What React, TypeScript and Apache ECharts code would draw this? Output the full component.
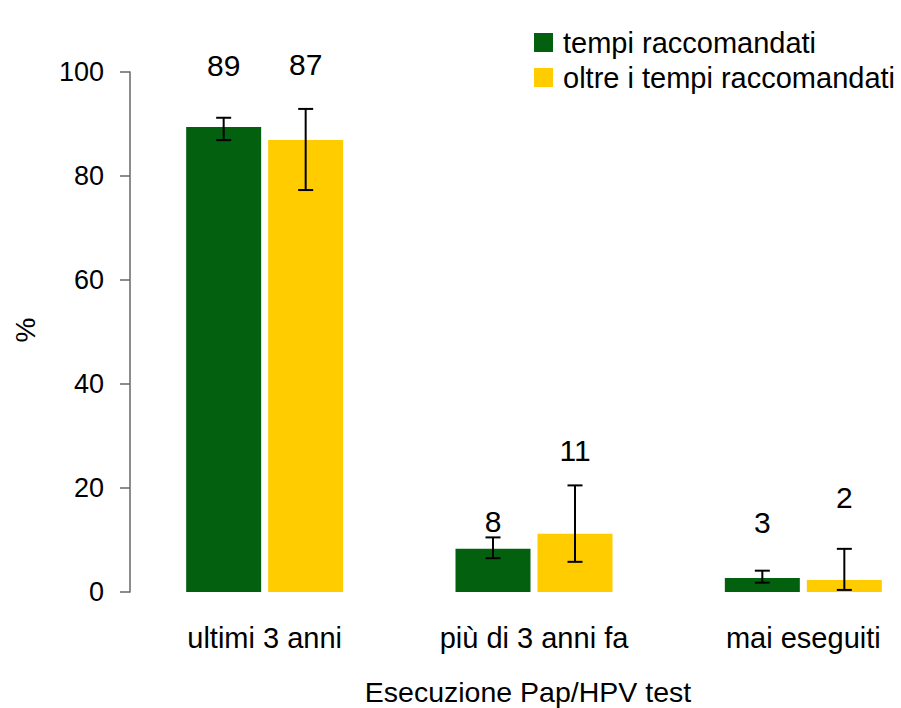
import React, { useEffect, useRef } from "react";
import * as echarts from "echarts";

const categories = ["ultimi 3 anni", "più di 3 anni fa", "mai eseguiti"];
const seriesNames = ["tempi raccomandati", "oltre i tempi raccomandati"];
const greenValues = [89.4, 8.3, 2.7];
const yellowValues = [86.9, 11.2, 2.3];
const greenLow = [86.9, 6.5, 1.8];
const greenHigh = [91.2, 10.5, 4.1];
const yellowLow = [77.3, 5.8, 0.4];
const yellowHigh = [92.9, 20.5, 8.3];
const greenLabels = ["89", "8", "3"];
const yellowLabels = ["87", "11", "2"];
const greenLabelY = [101.2, 13.5, 13.3];
const yellowLabelY = [101.5, 27.3, 18.1];
const yTicks = [0, 20, 40, 60, 80, 100];

const GREEN = "#03600f";
const YELLOW = "#ffcc00";
const BAR_W = 75;
const GAP = 7;
const FONT = "Liberation Sans, Arial, sans-serif";

function errSeries(low: number[], high: number[], labels: string[], labelY: number[], sign: number) {
  const data = categories.map((_, i) => [i, low[i], high[i], labelY[i]]);
  return {
    type: "custom",
    silent: true,
    z: 10,
    data,
    encode: { x: 0, y: [1, 2] },
    renderItem: (params: any, api: any) => {
      const i = api.value(0);
      const off = (sign * (BAR_W + GAP)) / 2;
      const pLow = api.coord([i, api.value(1)]);
      const pHigh = api.coord([i, api.value(2)]);
      const pLab = api.coord([i, api.value(3)]);
      const x = pLow[0] + off;
      const cap = 7.5;
      const st = { stroke: "#000", lineWidth: 2 };
      return {
        type: "group",
        children: [
          { type: "line", shape: { x1: x, y1: pLow[1], x2: x, y2: pHigh[1] }, style: st },
          { type: "line", shape: { x1: x - cap, y1: pLow[1], x2: x + cap, y2: pLow[1] }, style: st },
          { type: "line", shape: { x1: x - cap, y1: pHigh[1], x2: x + cap, y2: pHigh[1] }, style: st },
          {
            type: "text",
            x: x,
            y: pLab[1],
            style: {
              text: labels[i],
              fill: "#000",
              font: `30px ${FONT}`,
              align: "center",
              verticalAlign: "middle",
            },
          },
        ],
      };
    },
  };
}

export default function App() {
  const ref = useRef<HTMLDivElement>(null);
  useEffect(() => {
    document.body.style.margin = "0";
    const chart = echarts.init(ref.current!, undefined, { renderer: "svg" });
    chart.setOption({
      animation: false,
      backgroundColor: "#fff",
      textStyle: { fontFamily: FONT },
      grid: { left: 130, top: 72, bottom: 116, right: 0, containLabel: false },
      legend: {
        orient: "vertical",
        left: 529,
        top: 23,
        itemWidth: 19,
        itemHeight: 19,
        itemGap: 6,
        icon: "rect",
        textStyle: { fontSize: 29, lineHeight: 22, color: "#000", fontFamily: FONT, padding: [0, 0, 0, 5] },
        data: seriesNames,
      },
      xAxis: {
        type: "category",
        data: categories,
        axisLine: { show: false },
        axisTick: { show: false },
        axisLabel: { fontSize: 29, color: "#000", margin: 31, fontFamily: FONT },
      },
      yAxis: {
        type: "value",
        min: 0,
        max: 100,
        interval: 20,
        axisLine: { show: true, lineStyle: { color: "#666", width: 1.5 } },
        axisTick: { show: true, length: 10, lineStyle: { color: "#666", width: 1.5 } },
        splitLine: { show: false },
        axisLabel: {
          fontSize: 27,
          color: "#000",
          margin: 26,
          fontFamily: FONT,
          formatter: (v: number) => (yTicks.includes(v) ? String(v) : ""),
        },
      },
      graphic: [
        {
          type: "text",
          x: 528,
          y: 692,
          style: { text: "Esecuzione Pap/HPV test", font: `28.5px ${FONT}`, fill: "#000", align: "center", verticalAlign: "middle" },
        },
        {
          type: "text",
          x: 25,
          y: 330,
          rotation: Math.PI / 2,
          style: { text: "%", font: `28px ${FONT}`, fill: "#000", align: "center", verticalAlign: "middle" },
        },
      ],
      series: [
        {
          name: seriesNames[0],
          type: "bar",
          data: greenValues,
          barWidth: BAR_W,
          barGap: `${(GAP / BAR_W) * 100}%`,
          itemStyle: { color: GREEN },
        },
        {
          name: seriesNames[1],
          type: "bar",
          data: yellowValues,
          barWidth: BAR_W,
          barGap: `${(GAP / BAR_W) * 100}%`,
          itemStyle: { color: YELLOW },
        },
        errSeries(greenLow, greenHigh, greenLabels, greenLabelY, -1),
        errSeries(yellowLow, yellowHigh, yellowLabels, yellowLabelY, 1),
      ],
    });
    return () => chart.dispose();
  }, []);
  return (
    <div style={{ width: 901, height: 708, overflow: "hidden", position: "relative", background: "#fff" }}>
      <div ref={ref} style={{ width: 938, height: 708 }} />
    </div>
  );
}
